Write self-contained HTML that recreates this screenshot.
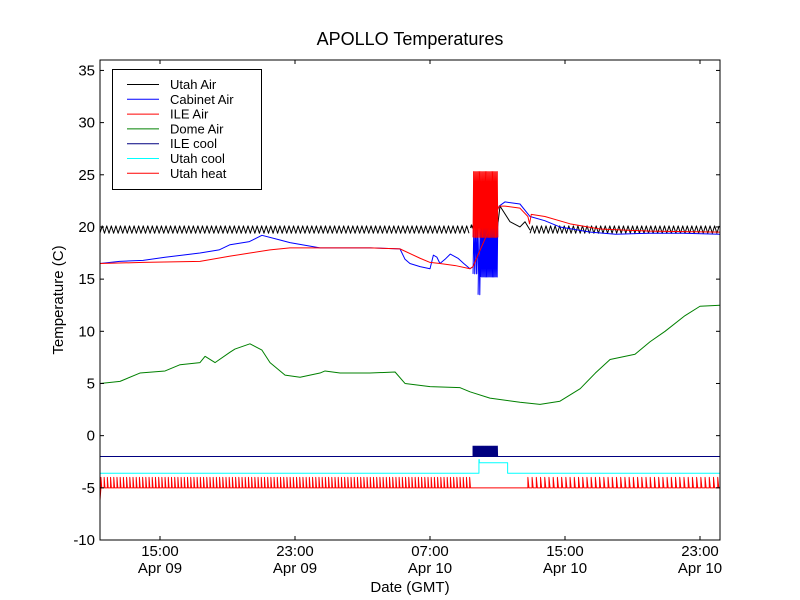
<!DOCTYPE html>
<html><head><meta charset="utf-8">
<style>
html,body{margin:0;padding:0;background:#fff;}
svg{display:block;font-family:"Liberation Sans","DejaVu Sans",sans-serif;}
</style></head>
<body>
<svg id="chart" width="800" height="600" viewBox="0 0 800 600">
<rect x="0" y="0" width="800" height="600" fill="#fff"/>
<text x="410" y="45" text-anchor="middle" font-size="18">APOLLO Temperatures</text>
<g id="plot"></g>
<rect x="100" y="60" width="620" height="480" fill="none" stroke="#000" stroke-width="1"/>
<g id="axes"></g>
<text x="410" y="592" text-anchor="middle" font-size="15">Date (GMT)</text>
<text transform="translate(63,300) rotate(-90)" text-anchor="middle" font-size="15">Temperature (C)</text>
<g id="legend"></g>
</svg>
<script>
// time in hours since Apr 09 00:00 GMT
const yTicks = [-10,-5,0,5,10,15,20,25,30,35];
const xTickTimes = [15,23,31,39,47];
const xTickLabels = [["15:00","Apr 09"],["23:00","Apr 09"],["07:00","Apr 10"],["15:00","Apr 10"],["23:00","Apr 10"]];

const cabTimes = [11.44,12.6,14,15.3,17.37,18.5,19.15,20.3,21.04,22.0,22.7,24.48,27.5,29.22,29.52,29.81,30.41,31.0,31.2,31.41,31.59,31.89,32.2,32.66,33.0,33.37,33.55,35.1,35.44,36.33,36.93,37.8,38.7,40.5,42,44,46,48.19];
const cabVals  = [16.5,16.7,16.8,17.1,17.5,17.8,18.3,18.6,19.2,18.8,18.5,18.0,18.0,17.9,16.9,16.5,16.2,16.0,17.3,17.1,16.5,16.9,17.4,17.0,16.5,16.0,16.2,22.0,22.4,22.2,21.0,20.6,20.0,19.5,19.3,19.4,19.4,19.3];
const ileTimes = [11.44,14,17.37,19.15,20.33,21.52,22.7,24.48,27.44,29.22,30.41,31.0,31.59,32.5,33.37,33.55,35.1,35.44,36.33,36.8,36.9,37.0,37.81,39.3,41.07,44,48.19];
const ileVals  = [16.5,16.6,16.7,17.2,17.5,17.8,18.0,18.0,18.0,17.9,17.0,16.6,16.5,16.3,16.0,16.2,22.0,22.0,21.8,21.0,20.3,21.2,21.0,20.3,19.8,19.6,19.5];
const domeTimes = [11.44,12.63,13.81,15.3,16.19,17.37,17.67,18.26,19.15,19.44,20.33,21.04,21.52,22.41,23.3,24.48,24.78,25.67,27.44,28.93,29.52,31.0,32.78,33.37,34.55,36.33,37.52,38.7,39.9,40.8,41.67,43.15,44.04,44.93,46.11,47.0,48.19];
const domeVals  = [5.0,5.2,6.0,6.2,6.8,7.0,7.6,7.0,8.0,8.3,8.8,8.2,7.0,5.8,5.6,6.0,6.2,6.0,6.0,6.1,5.0,4.7,4.6,4.2,3.6,3.2,3.0,3.3,4.5,6.0,7.3,7.8,9.0,10.0,11.5,12.4,12.5];
// oscillating segments: [start, end, low, high, period(h)]
const utahAirSegs = [[11.44,33.4,19.4,20.1,0.27],[33.4,35.0,19.9,20.2,0.1],[36.93,48.19,19.4,20.1,0.27]];
const utahAirTimes = [35.0,35.15,35.74,36.33,36.63,36.93];
const utahAirVals  = [20.0,22.0,20.5,20.0,20.5,19.7];
const ileOscSegs = [[33.55,35.03,19.0,25.3,0.07]];
const cabOscSegs = [[33.55,33.85,15.5,20.5,0.1],[33.85,34.0,13.5,19.5,0.1],[34.0,35.03,15.2,20.5,0.07]];
// pulse series
const ileCoolBase = -2, ileCoolHigh = -1;
const ileCoolPulse = [[33.55,35.03,0.06]];
const utahCoolBase = -3.6, utahCoolHigh = -2.6;
const utahCoolStep = [33.9,35.6];
const utahHeatBase = -5, utahHeatHigh = -4;
const utahHeatPulses = [[11.5,33.5,0.19],[36.8,48.1,0.25]];

const X0=100,X1=720,Y0=60,Y1=540,T0=11.444,T1=48.185,V0=-10,V1=36;
const xs = t => X0+(t-T0)/(T1-T0)*(X1-X0);
const ys = v => Y1-(v-V0)/(V1-V0)*(Y1-Y0);
const NS="http://www.w3.org/2000/svg";
const plot=document.getElementById('plot'), axes=document.getElementById('axes'), legend=document.getElementById('legend');
const clip=document.createElementNS(NS,'clipPath');clip.setAttribute('id','cp');
clip.innerHTML='<rect x="100" y="60" width="620" height="480"/>';
document.getElementById('chart').appendChild(clip);
plot.setAttribute('clip-path','url(#cp)');

function line(pts,color,name,w){
  const p=document.createElementNS(NS,'polyline');
  p.setAttribute('points',pts.map(q=>xs(q[0]).toFixed(2)+','+ys(q[1]).toFixed(2)).join(' '));
  p.setAttribute('fill','none');p.setAttribute('stroke',color);p.setAttribute('stroke-width',w||1);
  p.setAttribute('stroke-linejoin','round');
  
  
  plot.appendChild(p);
}
function zig(seg){const o=[];let i=0;for(let t=seg[0];t<=seg[1];t+=seg[4]/2,i++)o.push([t,i%2?seg[3]:seg[2]]);return o;}
function pulses(seg,base,high){const o=[];for(let t=seg[0];t<=seg[1];t+=seg[2]){o.push([t,base],[t,high],[t+seg[2]*0.25,base]);}return o;}

// Utah heat
let uh=[[T0,-6.2],[11.5,utahHeatBase]];
utahHeatPulses.forEach(s=>{uh=uh.concat(pulses(s,utahHeatBase,utahHeatHigh));});
uh.push([T1,utahHeatBase]);
line(uh,'#ff0000','utah-heat-line');
// Utah cool
line([[T0,utahCoolBase],[utahCoolStep[0],utahCoolBase],[utahCoolStep[0],-2.3],[utahCoolStep[0]+0.02,-2.3],[utahCoolStep[0]+0.02,utahCoolHigh],[utahCoolStep[1],utahCoolHigh],[utahCoolStep[1],utahCoolBase],[T1,utahCoolBase]],'#00ffff','utah-cool-line');
// ILE cool
let ic=[[T0,ileCoolBase]];ileCoolPulse.forEach(s=>{ic=ic.concat(pulses(s,ileCoolBase,ileCoolHigh));});ic.push([T1,ileCoolBase]);
line(ic,'#000080','ile-cool-line');
// Dome
line(domeTimes.map((t,i)=>[t,domeVals[i]]),'#008000','dome-air-line');
// Utah Air
utahAirSegs.forEach((s,i)=>line(zig(s),'#000000','utah-air-line'));
line(utahAirTimes.map((t,i)=>[t,utahAirVals[i]]),'#000000','utah-air-line');
// Cabinet
line(cabTimes.map((t,i)=>[t,cabVals[i]]),'#0000ff','cabinet-air-line');
cabOscSegs.forEach(s=>line(zig(s),'#0000ff','cabinet-air-oscillation'));
// ILE Air
line(ileTimes.map((t,i)=>[t,ileVals[i]]),'#ff0000','ile-air-line');
ileOscSegs.forEach(s=>line(zig(s),'#ff0000','ile-air-oscillation'));

// axes
yTicks.forEach(v=>{
  const y=ys(v);
  const g=document.createElementNS(NS,'g');
  
  
  g.innerHTML=`<line x1="100" y1="${y}" x2="104" y2="${y}" stroke="#000"/><line x1="716" y1="${y}" x2="720" y2="${y}" stroke="#000"/><text x="95" y="${y+5}" text-anchor="end" font-size="15">${v}</text>`;
  axes.appendChild(g);
});
xTickTimes.forEach((t,i)=>{
  const x=xs(t);
  const g=document.createElementNS(NS,'g');
  
  
  g.innerHTML=`<line x1="${x}" y1="540" x2="${x}" y2="536" stroke="#000"/><line x1="${x}" y1="60" x2="${x}" y2="64" stroke="#000"/><text x="${x}" y="556" text-anchor="middle" font-size="15">${xTickLabels[i][0]}</text><text x="${x}" y="573" text-anchor="middle" font-size="15">${xTickLabels[i][1]}</text>`;
  axes.appendChild(g);
});
// legend
const legNames=["Utah Air","Cabinet Air","ILE Air","Dome Air","ILE cool","Utah cool","Utah heat"];
const legColors=["#000000","#0000ff","#ff0000","#008000","#000080","#00ffff","#ff0000"];
const box=document.createElementNS(NS,'rect');
box.setAttribute('x',112.5);box.setAttribute('y',69.5);box.setAttribute('width',149);box.setAttribute('height',120);
box.setAttribute('fill','#fff');box.setAttribute('stroke','#000');


legend.appendChild(box);
legNames.forEach((n,i)=>{
  const y=84.5+i*14.8;
  const g=document.createElementNS(NS,'g');
  
  
  g.innerHTML=`<line x1="127" y1="${y}" x2="159" y2="${y}" stroke="${legColors[i]}"/><text x="170" y="${y+4.5}" font-size="13">${n}</text>`;
  legend.appendChild(g);
});
</script>
</body></html>
